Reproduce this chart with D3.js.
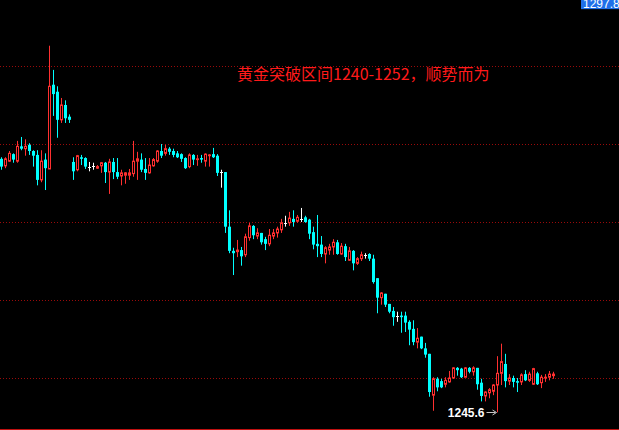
<!DOCTYPE html>
<html>
<head>
<meta charset="utf-8">
<script src="https://cdn.jsdelivr.net/npm/d3@7"></script>
<style>
  html, body { margin: 0; padding: 0; background: #000; }
  svg { display: block; }
</style>
</head>
<body>
<div id="chart"></div>
<script>
// OHLC, one value per candle (left to right)
const opens = [
  1278.1, 1277.2, 1277.8, 1278.7, 1277.8, 1279.7, 1279.4, 1279.9, 1279.1, 1278.6,
  1275.4, 1278.0, 1276.8, 1287.6, 1286.7, 1283.1, 1285.0, 1283.5, 1277.7, 1276.7,
  1278.3, 1278.2, 1277.1, 1277.2, 1276.9, 1277.2, 1277.6, 1276.4, 1277.7, 1276.4,
  1275.9, 1276.0, 1276.0, 1276.2, 1277.8, 1278.0, 1276.8, 1276.3, 1277.2, 1277.8,
  1279.1, 1278.8, 1279.4, 1279.1, 1278.8, 1278.7, 1278.2, 1277.1, 1278.6, 1278.0,
  1278.2, 1277.8, 1278.5, 1278.7, 1278.5, 1276.4, 1276.4, 1269.4, 1266.3, 1266.2,
  1266.4, 1265.8, 1268.0, 1269.5, 1268.2, 1268.6, 1267.8, 1267.2, 1268.2, 1268.6,
  1269.0, 1269.9, 1269.9, 1270.4, 1270.1, 1270.4, 1270.6, 1270.3, 1268.7, 1267.2,
  1267.1, 1265.9, 1266.4, 1266.8, 1267.4, 1265.9, 1266.9, 1265.1, 1266.3, 1264.7,
  1265.3, 1265.8, 1265.9, 1265.3, 1262.8, 1260.3, 1260.8, 1259.5, 1258.6, 1258.0,
  1258.0, 1258.0, 1257.2, 1256.3, 1254.6, 1255.3, 1253.8, 1253.1, 1247.8, 1249.9,
  1249.6, 1249.2, 1249.5, 1250.0, 1251.3, 1251.2, 1250.1, 1251.3, 1250.8, 1251.3,
  1249.4, 1247.7, 1248.1, 1248.3, 1249.1, 1250.6, 1251.8, 1249.6, 1250.0, 1249.6,
  1249.5, 1250.5, 1249.7, 1249.2, 1250.6, 1249.4, 1250.0, 1250.1, 1250.3
];
const highs = [
  1278.3, 1278.3, 1279.1, 1278.8, 1280.4, 1280.9, 1280.6, 1280.1, 1279.2, 1279.2,
  1279.2, 1278.8, 1292.6, 1289.5, 1287.4, 1285.9, 1285.6, 1283.8, 1278.3, 1278.6,
  1278.6, 1278.3, 1277.7, 1277.6, 1277.3, 1277.7, 1277.7, 1278.1, 1278.2, 1278.2,
  1276.7, 1276.4, 1276.8, 1280.4, 1279.0, 1278.8, 1278.2, 1278.2, 1278.2, 1279.2,
  1280.0, 1279.9, 1279.6, 1279.4, 1279.1, 1278.8, 1278.3, 1278.8, 1278.7, 1278.6,
  1278.6, 1278.8, 1278.7, 1279.5, 1278.7, 1276.7, 1276.4, 1271.5, 1266.7, 1267.7,
  1266.8, 1268.5, 1269.9, 1269.6, 1269.2, 1268.6, 1268.1, 1269.1, 1269.1, 1269.4,
  1270.4, 1270.8, 1271.3, 1271.5, 1270.9, 1271.8, 1270.8, 1270.4, 1269.4, 1270.9,
  1268.2, 1266.9, 1267.2, 1267.8, 1267.7, 1267.3, 1267.2, 1266.8, 1266.4, 1265.5,
  1266.2, 1266.0, 1266.0, 1265.8, 1262.8, 1261.0, 1260.8, 1259.5, 1259.1, 1258.5,
  1258.5, 1258.5, 1257.4, 1257.4, 1256.4, 1255.3, 1254.5, 1253.1, 1250.1, 1250.1,
  1249.9, 1250.1, 1250.9, 1251.4, 1251.4, 1251.3, 1251.4, 1251.4, 1251.5, 1251.3,
  1249.9, 1248.3, 1248.7, 1249.2, 1252.8, 1254.4, 1253.1, 1250.5, 1250.3, 1250.0,
  1250.6, 1251.0, 1250.8, 1251.3, 1250.8, 1250.4, 1250.5, 1250.9, 1250.8
];
const lows = [
  1276.7, 1276.9, 1277.7, 1277.6, 1277.6, 1279.2, 1278.5, 1278.6, 1277.1, 1274.7,
  1275.1, 1274.1, 1276.8, 1283.6, 1280.8, 1282.7, 1282.7, 1282.7, 1275.4, 1276.5,
  1277.3, 1276.8, 1276.5, 1276.7, 1276.8, 1276.3, 1275.0, 1273.6, 1275.5, 1275.5,
  1274.7, 1274.9, 1275.4, 1275.8, 1275.4, 1276.4, 1275.4, 1276.2, 1277.1, 1277.6,
  1278.2, 1278.5, 1278.6, 1278.3, 1278.2, 1277.7, 1276.8, 1276.9, 1277.3, 1277.2,
  1277.6, 1277.1, 1277.1, 1278.2, 1275.9, 1274.4, 1268.6, 1266.0, 1263.2, 1265.5,
  1264.4, 1265.5, 1267.6, 1267.8, 1267.8, 1267.1, 1266.4, 1266.9, 1267.8, 1268.0,
  1268.6, 1269.4, 1269.5, 1269.4, 1269.9, 1270.0, 1269.9, 1267.8, 1266.5, 1265.5,
  1265.5, 1264.7, 1265.8, 1265.8, 1265.8, 1265.8, 1265.0, 1265.0, 1263.8, 1264.5,
  1265.0, 1265.3, 1265.0, 1262.1, 1258.3, 1259.4, 1259.1, 1258.3, 1256.7, 1257.2,
  1255.8, 1255.9, 1254.2, 1254.2, 1253.8, 1253.7, 1252.6, 1247.6, 1245.8, 1248.3,
  1248.7, 1248.8, 1249.4, 1249.9, 1250.3, 1250.0, 1250.1, 1250.6, 1250.3, 1248.5,
  1247.0, 1247.0, 1247.4, 1247.8, 1245.6, 1249.1, 1248.8, 1249.1, 1248.8, 1248.2,
  1249.1, 1249.6, 1249.5, 1249.1, 1249.1, 1248.7, 1249.5, 1249.7, 1249.9
];
const closes = [
  1277.1, 1278.1, 1278.8, 1278.0, 1279.7, 1279.4, 1279.7, 1279.1, 1278.5, 1275.4,
  1277.8, 1276.9, 1287.4, 1286.4, 1283.1, 1285.0, 1283.3, 1283.1, 1276.5, 1278.5,
  1278.1, 1277.1, 1277.1, 1277.2, 1277.1, 1277.6, 1276.4, 1277.7, 1276.4, 1275.8,
  1276.3, 1276.3, 1276.3, 1277.8, 1278.1, 1276.7, 1276.3, 1277.3, 1278.0, 1279.1,
  1278.5, 1279.4, 1279.0, 1278.6, 1278.3, 1278.1, 1276.9, 1278.6, 1278.0, 1278.1,
  1278.0, 1278.7, 1278.6, 1278.3, 1276.3, 1276.4, 1269.4, 1266.3, 1266.0, 1266.4,
  1265.6, 1268.1, 1269.5, 1268.3, 1268.6, 1267.4, 1267.2, 1268.3, 1268.6, 1269.1,
  1269.9, 1269.9, 1270.5, 1270.0, 1270.6, 1270.4, 1270.0, 1268.5, 1267.1, 1266.9,
  1265.9, 1266.7, 1266.8, 1267.4, 1265.9, 1266.9, 1265.5, 1266.3, 1264.7, 1265.3,
  1265.8, 1265.8, 1265.3, 1262.3, 1260.3, 1260.9, 1259.4, 1258.5, 1257.8, 1258.0,
  1257.8, 1257.1, 1256.2, 1254.6, 1255.1, 1253.8, 1253.0, 1248.2, 1249.9, 1248.8,
  1248.8, 1249.7, 1250.0, 1251.3, 1251.0, 1250.1, 1251.3, 1250.8, 1251.3, 1249.2,
  1247.7, 1248.2, 1248.5, 1249.1, 1250.6, 1252.1, 1249.6, 1250.0, 1249.5, 1249.4,
  1250.4, 1249.7, 1250.5, 1251.2, 1249.2, 1250.1, 1250.1, 1250.5, 1250.5
];

const gridPrices = [1250, 1260, 1270, 1280, 1290];
const topPrice = 1297.8;
const minPrice = 1245.6;
const minIndex = 124;
const title = "黄金突破区间1240-1252，顺势而为";

let width = 619, height = 430;

let candles = opens.map(function(o, i) {
  return {i: i, o: o, h: highs[i], l: lows[i], c: closes[i]};
});

let x = d3.scaleLinear().domain([0, candles.length - 1]).range([1.5, 1.5 + 4 * (candles.length - 1)]);
let y = d3.scaleLinear().domain([1250, 1290]).range([378, 66]);

let svg = d3.select('#chart')
  .append('svg')
  .attr('width', width)
  .attr('height', height)
  .style('background', '#000');

// dotted grid
svg.append('g')
  .selectAll('line')
  .data(gridPrices)
  .enter().append('line')
  .attr('x1', 0)
  .attr('x2', width)
  .attr('y1', function(d) { return Math.round(y(d)) + 0.5; })
  .attr('y2', function(d) { return Math.round(y(d)) + 0.5; })
  .attr('stroke', '#9a0a0a')
  .attr('stroke-dasharray', '1,2');

// bottom border
svg.append('line')
  .attr('x1', 0).attr('x2', width)
  .attr('y1', height - 0.5).attr('y2', height - 0.5)
  .attr('stroke', '#c01010');

function colorOf(d) {
  if (d.c > d.o) return '#ff3030';
  if (d.c < d.o) return '#00ffff';
  return '#ffffff';
}

let g = svg.append('g');

// wicks
g.selectAll('line.wick')
  .data(candles)
  .enter().append('line')
  .attr('class', 'wick')
  .attr('x1', function(d) { return x(d.i); })
  .attr('x2', function(d) { return x(d.i); })
  .attr('y1', function(d) { return y(d.h); })
  .attr('y2', function(d) { return y(d.l); })
  .attr('stroke', colorOf)
  .attr('stroke-width', 1);

// bearish bodies: filled cyan
g.selectAll('rect.down')
  .data(candles.filter(function(d) { return d.c < d.o; }))
  .enter().append('rect')
  .attr('class', 'down')
  .attr('x', function(d) { return x(d.i) - 1.5; })
  .attr('y', function(d) { return y(d.o); })
  .attr('width', 3)
  .attr('height', function(d) { return Math.max(1, y(d.c) - y(d.o)); })
  .attr('fill', '#00ffff');

// bullish bodies: hollow red
g.selectAll('rect.up')
  .data(candles.filter(function(d) { return d.c > d.o; }))
  .enter().append('rect')
  .attr('class', 'up')
  .attr('x', function(d) { return x(d.i) - 1; })
  .attr('y', function(d) { return y(d.c); })
  .attr('width', 2)
  .attr('height', function(d) { return Math.max(0.5, y(d.o) - y(d.c)); })
  .attr('fill', '#000')
  .attr('stroke', '#ff3030')
  .attr('stroke-width', 1);

// doji crosses
g.selectAll('line.doji')
  .data(candles.filter(function(d) { return d.c === d.o; }))
  .enter().append('line')
  .attr('class', 'doji')
  .attr('x1', function(d) { return x(d.i) - 1.5; })
  .attr('x2', function(d) { return x(d.i) + 1.5; })
  .attr('y1', function(d) { return Math.round(y(d.o)) + 0.5; })
  .attr('y2', function(d) { return Math.round(y(d.o)) + 0.5; })
  .attr('stroke', '#ffffff');

// title text
svg.append('text')
  .attr('x', 237)
  .attr('y', 80)
  .text(title)
  .style('fill', '#ff1a1a')
  .style('font-family', '"Noto Sans CJK SC", sans-serif')
  .style('font-size', '16px');

// lowest price marker
let lowX = x(minIndex), lowY = y(minPrice);
svg.append('text')
  .attr('x', lowX - 13)
  .attr('y', lowY + 5)
  .attr('text-anchor', 'end')
  .text(minPrice.toFixed(1))
  .style('fill', '#ffffff')
  .style('font-family', '"Liberation Sans", Arial, sans-serif')
  .style('font-weight', 'bold')
  .style('font-size', '12px');

svg.append('line')
  .attr('x1', lowX - 11).attr('x2', lowX - 2)
  .attr('y1', Math.round(lowY) + 0.5).attr('y2', Math.round(lowY) + 0.5)
  .attr('stroke', '#c8c8c8');
svg.append('path')
  .attr('d', 'M' + (lowX - 5) + ',' + (Math.round(lowY) - 2) + 'L' + (lowX - 1) + ',' + (Math.round(lowY) + 0.5) + 'L' + (lowX - 5) + ',' + (Math.round(lowY) + 3))
  .attr('fill', 'none')
  .attr('stroke', '#c8c8c8');

// price tag cut by the top edge
let tagY = y(topPrice);
svg.append('rect')
  .attr('x', 581)
  .attr('y', tagY - 11)
  .attr('width', width - 581)
  .attr('height', 15)
  .attr('fill', '#1f6fe8');
svg.append('text')
  .attr('x', 583)
  .attr('y', tagY + 3)
  .text(topPrice.toFixed(1))
  .style('fill', '#ffffff')
  .style('font-family', '"Liberation Sans", Arial, sans-serif')
  .style('font-size', '12px');
</script>
</body>
</html>
